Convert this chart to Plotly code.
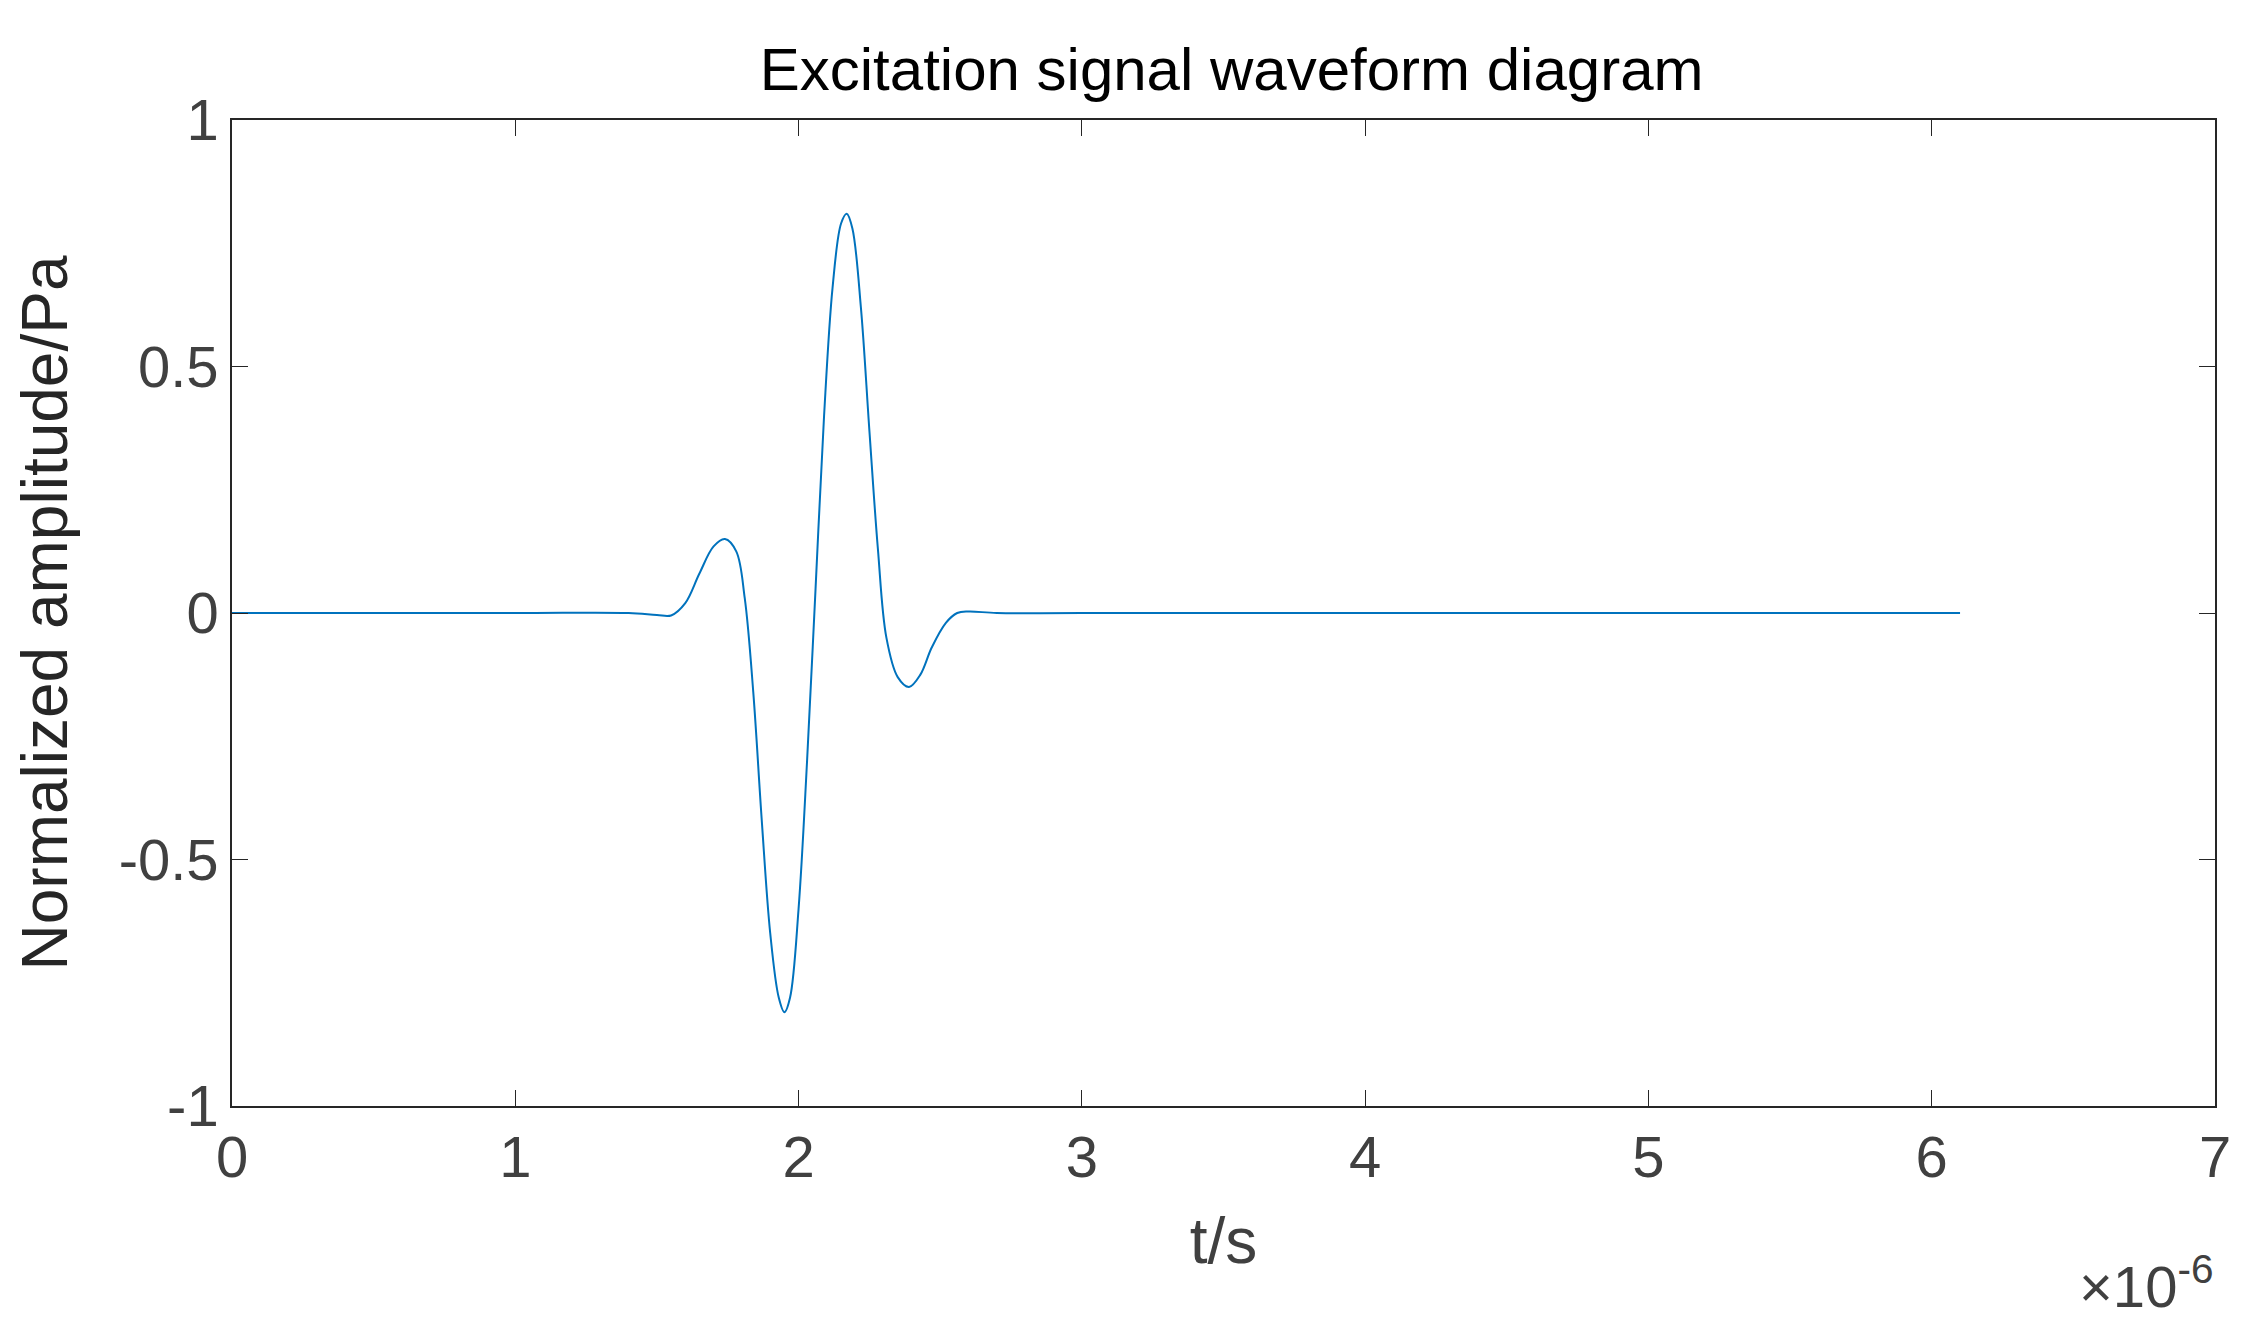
import plotly.graph_objects as go

# time in microseconds (axis shows x10^-6 s)
t_us = [0, 1.0, 1.4, 1.5, 1.55, 1.6, 1.65, 1.7, 1.74, 1.78, 1.81, 1.84, 1.87, 1.9, 1.93, 1.95,
        1.97, 2.0, 2.03, 2.06, 2.09, 2.12, 2.15, 2.17, 2.19, 2.22, 2.25, 2.28, 2.31, 2.35,
        2.39, 2.43, 2.47, 2.52, 2.56, 2.6, 2.7, 3.0, 6.1]
amp = [0, 0, 0, -0.004, -0.005, 0.02, 0.08, 0.135, 0.15, 0.125, 0.03, -0.16, -0.42, -0.65,
       -0.78, -0.81, -0.78, -0.6, -0.3, 0.05, 0.4, 0.66, 0.79, 0.81, 0.78, 0.62, 0.37,
       0.13, -0.05, -0.13, -0.15, -0.125, -0.07, -0.02, 0.0, 0.003, 0, 0, 0]

x_ticks = [0, 1, 2, 3, 4, 5, 6, 7]
y_ticks = [-1, -0.5, 0, 0.5, 1]
y_labels = ["-1", "-0.5", "0", "0.5", "1"]

fig = go.Figure(go.Scatter(
    x=t_us, y=amp, mode="lines",
    line=dict(color="#0072BD", width=2, shape="spline", smoothing=1.0),
))

axis_common = dict(
    showgrid=False, zeroline=False, showline=True, mirror="ticks",
    linecolor="#262626", linewidth=1.5, ticks="inside", ticklen=16,
    tickcolor="#262626", tickfont=dict(family="Arial, Liberation Sans", size=58, color="#404040"),
)
fig.update_xaxes(range=[0, 7], tickvals=x_ticks,
                 title=dict(text="t/s", font=dict(size=64, color="#404040"), standoff=30),
                 **axis_common)
fig.update_yaxes(range=[-1, 1], tickvals=y_ticks, ticktext=y_labels,
                 title=dict(text="Normalized amplitude/Pa", font=dict(size=64, color="#262626"), standoff=30),
                 **axis_common)

fig.add_annotation(x=1.0, y=-0.14, xref="paper", yref="paper", xanchor="right", yanchor="top",
                   text="×10<sup>-6</sup>", showarrow=False,
                   font=dict(family="Arial, Liberation Sans", size=58, color="#404040"))

fig.update_layout(
    width=2266, height=1328,
    paper_bgcolor="white", plot_bgcolor="white",
    font=dict(family="Arial, Liberation Sans", color="#262626"),
    title=dict(text="Excitation signal waveform diagram", x=0.54, xanchor="center", y=0.97,
               font=dict(size=60, color="black")),
    margin=dict(l=224, r=59, t=112, b=230),
    showlegend=False,
)

fig.write_html("out.html")
